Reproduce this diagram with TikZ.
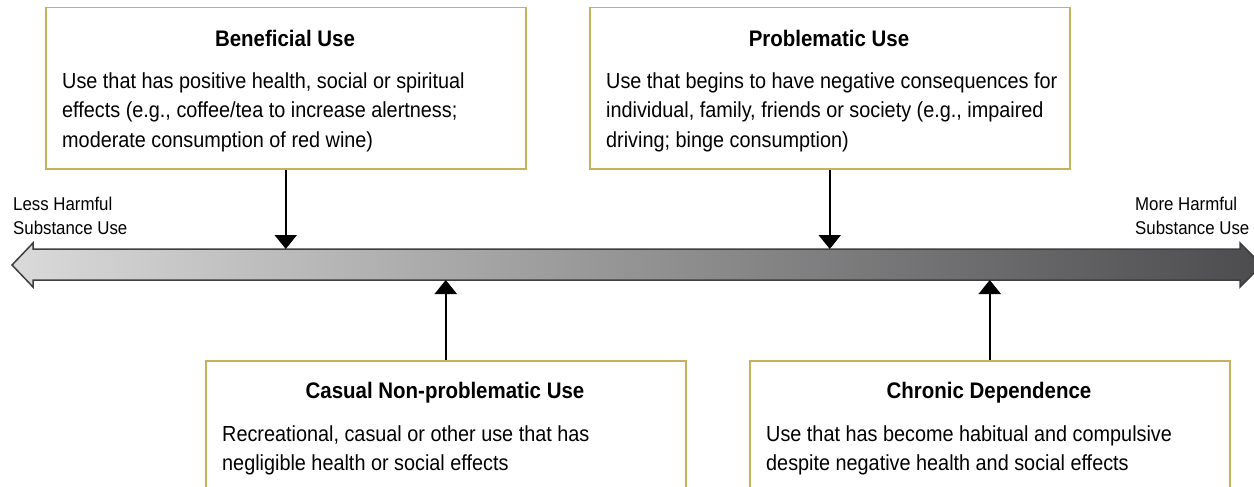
\documentclass[tikz,border=0pt]{standalone}
\usepackage{fontspec}
\setmainfont{Liberation Sans}[FakeStretch=0.91]
\usetikzlibrary{arrows.meta}
\definecolor{boxgold}{RGB}{197,178,92}
\definecolor{axisdark}{RGB}{62,62,64}
\definecolor{axislight}{RGB}{218,218,218}
\definecolor{axisend}{RGB}{76,76,78}
\begin{document}
\begin{tikzpicture}
  [x=1pt, y=-1pt,
   frame/.style={draw=boxgold, line width=1.5pt, minimum width=480pt, minimum height=161pt, inner sep=0pt, anchor=north west},
   title/.style={anchor=base, inner sep=0pt, font=\fontsize{22.5}{27}\selectfont\bfseries},
   body/.style={anchor=north west, inner sep=0pt, align=left, font=\fontsize{21.8}{29.5}\selectfont},
   side/.style={anchor=north west, inner sep=0pt, align=left, font=\fontsize{18.5}{24}\selectfont},
   pointer/.style={line width=2.2pt, -{Triangle[width=22pt,length=14pt]}}]
  \clip (0,0) rectangle (1254,487);
  % scale from less to more harmful
  \shadedraw[left color=axislight, right color=axisend, draw=axisdark, line width=1.5pt]
    (12,265) -- (33,243) -- (33,249) -- (1240,249) -- (1240,243) -- (1262,265)
    -- (1240,287) -- (1240,280) -- (33,280) -- (33,287) -- cycle;
  \coordinate (axTop) at (0,249);
  \coordinate (axBot) at (0,280);
  \node[side] (less) at (13,193.2) {\strut Less Harmful\\Substance Use};
  \node[side] (more) at (1135,193.2) {\strut More Harmful\\Substance Use};
  % upper boxes
  \node[frame] (ben) at (45,7) {};
  \node[title] (benT) at (285,47) {Beneficial Use};
  \node[body] (benB) at (62,67.35) {\strut Use that has positive health, social or spiritual\\effects (e.g., coffee/tea to increase alertness;\\moderate consumption of red wine)};
  \node[frame] (prob) at (589,7) {};
  \node[title] (probT) at (829,47) {Problematic Use};
  \node[body] (probB) at (606,67.35) {\strut Use that begins to have negative consequences for\\individual, family, friends or society (e.g., impaired\\driving; binge consumption)};
  % lower boxes
  \node[frame] (cas) at (205,360) {};
  \node[title] (casT) at (445,398) {Casual Non-problematic Use};
  \node[body] (casB) at (222,420.35) {\strut Recreational, casual or other use that has\\negligible health or social effects};
  \node[frame] (chr) at (749,360) {};
  \node[title] (chrT) at (989,398) {Chronic Dependence};
  \node[body] (chrB) at (766,420.35) {\strut Use that has become habitual and compulsive\\despite negative health and social effects};
  % pointers onto the scale
  \draw[pointer] (ben.south) -- (ben.south |- axTop);
  \draw[pointer] (prob.south) -- (prob.south |- axTop);
  \draw[pointer] (cas.north) -- (cas.north |- axBot);
  \draw[pointer] (chr.north) -- (chr.north |- axBot);
\end{tikzpicture}
\end{document}
